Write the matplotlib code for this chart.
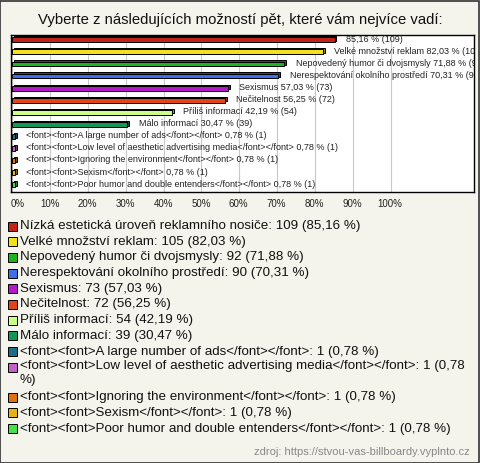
import matplotlib
matplotlib.use("Agg")
import matplotlib.pyplot as plt
from matplotlib.patches import Rectangle
import numpy as np

plt.rcParams['font.family'] = ['Liberation Sans', 'DejaVu Sans']

title = "Vyberte z následujících možností pět, které vám nejvíce vadí:"

# answer texts (legend) and the shorter names used next to the bars
names = ["Nízká estetická úroveň reklamního nosiče",
         "Velké množství reklam",
         "Nepovedený humor či dvojsmysly",
         "Nerespektování okolního prostředí",
         "Sexismus",
         "Nečitelnost",
         "Příliš informací",
         "Málo informací",
         "<font><font>A large number of ads</font></font>",
         "<font><font>Low level of aesthetic advertising media</font></font>",
         "<font><font>Ignoring the environment</font></font>",
         "<font><font>Sexism</font></font>",
         "<font><font>Poor humor and double entenders</font></font>"]
bar_names = [""] + names[1:]
counts = [109, 105, 92, 90, 73, 72, 54, 39, 1, 1, 1, 1, 1]
pcts = [85.16, 82.03, 71.88, 70.31, 57.03, 56.25, 42.19, 30.47, 0.78, 0.78, 0.78, 0.78, 0.78]
colors = ["#c0231a", "#f2e21c", "#1db41d", "#3f6fe6", "#b21ac8", "#e0461a",
          "#ccff88", "#14955a", "#1d6f86", "#c060c8", "#e07018", "#e2b418", "#48e048"]
ticks = [0, 10, 20, 30, 40, 50, 60, 70, 80, 90, 100]
source = "zdroj: https://stvou-vas-billboardy.vyplnto.cz"

bg = "#f4f3ec"
fig = plt.figure(figsize=(4.8, 4.63), dpi=100, facecolor=bg)
fig.patches.append(Rectangle((0.001, 0.001), 0.997, 0.997, transform=fig.transFigure,
                             fill=False, edgecolor="#333333", linewidth=1.2))

fig.text(0.5, 1 - 20 / 463, title, ha="center", va="center", fontsize=10.7, color="#111111")

ax = fig.add_axes([11 / 480, 1 - 192 / 463, 463 / 480, 157 / 463])
ax.set_facecolor("white")
y = np.arange(len(pcts))
ax.set_xlim(-0.3, 122)
ax.set_ylim(len(pcts) - 0.4, -0.4)

for t in ticks:
    ax.axvline(t, color="#c8c8c8", linewidth=0.8, zorder=0)

# 3d look: darker block behind, shifted up/right
dark = [tuple(np.array(matplotlib.colors.to_rgb(c)) * 0.6) for c in colors]
ax.barh(y - 0.1, pcts, left=0.5, height=0.4, color=dark, edgecolor="black",
        linewidth=0.7, zorder=2)
ax.barh(y, pcts, height=0.4, color=colors, edgecolor="black", linewidth=0.7, zorder=3)

# labels run past the plot edge and get cut there, same as the original
for i in range(len(pcts)):
    lab = (bar_names[i] + " " if bar_names[i] else "") + \
        f"{pcts[i]:.2f}".replace(".", ",") + f" % ({counts[i]})"
    ax.text(pcts[i] + 3, y[i] - 0.05, lab, ha="left", va="center", fontsize=6.5,
            color="#222222", clip_on=True, zorder=4)

ax.set_xticks([])
ax.set_yticks([])
for s in ax.spines.values():
    s.set_color("black")
    s.set_linewidth(1)

x0, sc = 12 / 480, 37.8 / 480 / 10
for t in ticks:
    fig.text(x0 + t * sc + (0.012 if t == 0 else 0), 1 - 204 / 463, f"{t}%",
             ha="center", va="center", fontsize=7, color="#222222")

# legend
ly = 226
for i in range(len(names)):
    yy = 1 - ly / 463
    fig.patches.append(Rectangle((8 / 480, yy - 4.5 / 463), 9 / 480, 9 / 463,
                                 transform=fig.transFigure, facecolor=colors[i],
                                 edgecolor="black", linewidth=0.7))
    txt = f"{names[i]}: {counts[i]} (" + f"{pcts[i]:.2f}".replace(".", ",") + " %)"
    if len(txt) > 75:
        txt = txt[:-2] + "\n%)"
    fig.text(20 / 480, yy, txt, ha="left", va="top" if "\n" in txt else "center",
             fontsize=9.6, color="#111111", linespacing=1.2)
    if "\n" in txt:
        fig.texts[-1].set_y(yy + 7 / 463)
        ly += 30
    else:
        ly += 15.7

fig.text(470 / 480, 1 - 452 / 463, source, ha="right", va="center", fontsize=8,
         color="#888888")

fig.savefig("out.png", dpi=100, facecolor=bg)
